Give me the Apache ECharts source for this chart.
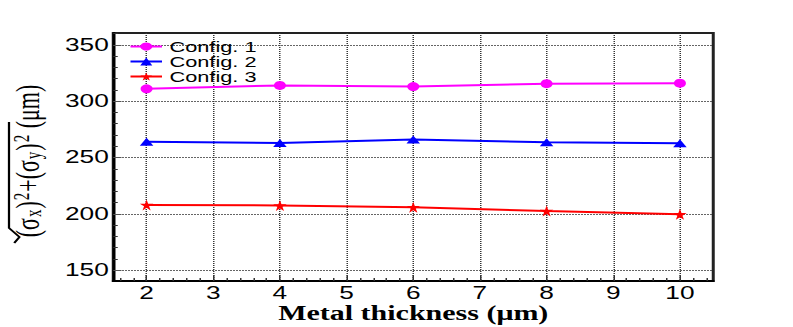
<!DOCTYPE html>
<html>
<head>
<meta charset="utf-8">
<script src="https://cdn.jsdelivr.net/npm/echarts@6/dist/echarts.min.js"></script>
<style>
  html, body { margin: 0; padding: 0; background: #fff; overflow: hidden; }
  /* the reference is a ROOT plot stretched sideways, so draw narrow and stretch */
  #chart { width: 529px; height: 327px; transform: scaleX(1.5); transform-origin: 0 0; }
</style>
</head>
<body>
<div id="chart"></div>
<script>
// metal thickness (um)
var thickness = [2, 4, 6, 8, 10];
// sqrt(sx^2 + sy^2) in um
var config1 = [311, 314, 313, 315.5, 316];
var config2 = [264, 263, 266, 263.5, 262.8];
var config3 = [208, 207.5, 206, 202.6, 199.7];
var seriesNames = ['Config. 1', 'Config. 2', 'Config. 3'];

var xMajorTicks = [2, 3, 4, 5, 6, 7, 8, 9, 10];
var yMajorTicks = [150, 200, 250, 300, 350];

// minor ticks: 5 per unit on x, every 10 on y
var xMinorTicks = [];
for (var i = 16; i <= 104; i += 2) {
  if (i % 10 !== 0) xMinorTicks.push(i / 10);
}
var yMinorTicks = [];
for (var j = 150; j <= 360; j += 10) {
  if (j % 50 !== 0) yMinorTicks.push(j);
}

var starPath = 'path://M50,0 L61,35 L98,35 L68,57 L79,91 L50,70 L21,91 L32,57 L2,35 L39,35 Z';

function pairs(ys) {
  return thickness.map(function (x, k) { return [x, ys[k]]; });
}

var chartDom = document.getElementById('chart');
var myChart = echarts.init(chartDom, null, { renderer: 'svg' });

var labelFont = { fontFamily: 'Liberation Sans', fontSize: 17.5, color: '#000' };

var option = {
  animation: false,
  backgroundColor: '#fff',
  grid: {
    show: true,
    outerBoundsMode: 'none',
    containLabel: false,
    left: 75.5,
    right: 53.5,
    top: 33,
    bottom: 46,
    borderColor: '#222',
    borderWidth: 2
  },
  legend: {
    orient: 'vertical',
    left: 86,
    top: 39,
    padding: 0,
    itemGap: 0,
    itemWidth: 21,
    itemHeight: 10,
    selectedMode: false,
    data: seriesNames,
    textStyle: { fontFamily: 'Liberation Sans', fontSize: 14.5, color: '#000', lineHeight: 13 }
  },
  xAxis: [
    {
      type: 'value',
      min: 1.5,
      max: 10.5,
      name: 'Metal thickness (\u03bcm)',
      nameLocation: 'middle',
      nameMoveOverlap: false,
      nameGap: 22,
      nameTextStyle: { fontFamily: 'Liberation Serif', fontWeight: 'bold', fontSize: 20, lineHeight: 21, color: '#000' },
      axisLine: { lineStyle: { color: '#000', width: 2 } },
      axisTick: { inside: true, length: 6, customValues: xMajorTicks, lineStyle: { color: '#333', width: 1 } },
      axisLabel: Object.assign({ margin: 3, customValues: xMajorTicks }, labelFont),
      splitLine: { show: true, lineStyle: { type: 'dotted', color: '#333', width: 1 } }
    },
    {
      type: 'value',
      position: 'bottom',
      min: 1.5,
      max: 10.5,
      axisLine: { show: false },
      axisTick: { inside: true, length: 3, customValues: xMinorTicks, lineStyle: { color: '#333', width: 1 } },
      axisLabel: { show: false },
      splitLine: { show: false }
    }
  ],
  yAxis: [
    {
      type: 'value',
      min: 140.5,
      max: 360.5,
      axisLine: { show: true, lineStyle: { color: '#000', width: 2 } },
      axisTick: { show: true, inside: true, length: 5.5, customValues: yMajorTicks, lineStyle: { color: '#555', width: 1 } },
      axisLabel: Object.assign({ margin: 3, customValues: yMajorTicks }, labelFont),
      splitLine: { show: true, lineStyle: { type: 'dotted', color: '#333', width: 1 } }
    },
    {
      type: 'value',
      position: 'left',
      min: 140.5,
      max: 360.5,
      axisLine: { show: false },
      axisTick: { show: true, inside: true, length: 3, customValues: yMinorTicks, lineStyle: { color: '#333', width: 1 } },
      axisLabel: { show: false },
      splitLine: { show: false }
    }
  ],
  graphic: [
    // square root sign around (sx)^2+(sy)^2
    {
      type: 'polyline',
      shape: { points: [[6, 122], [6, 228], [13, 237], [9.5, 243]] },
      style: { stroke: '#000', lineWidth: 1.5, fill: null }
    },
    {
      type: 'text',
      x: 18.5,
      y: 161,
      rotation: Math.PI / 2,
      style: {
        text: '{b|(\u03c3}{sub|x}{b|)}{sup|2}{b|+(\u03c3}{sub|y}{b|)}{sup|2}{b| (\u03bcm)}',
        align: 'center',
        verticalAlign: 'middle',
        fill: '#000',
        rich: {
          b: { fontFamily: 'Liberation Serif', fontSize: 22, lineHeight: 23, padding: [0, 0.5], verticalAlign: 'middle' },
          sub: { fontFamily: 'Liberation Serif', fontSize: 15, lineHeight: 15, padding: [0, 0.5], verticalAlign: 'bottom' },
          sup: { fontFamily: 'Liberation Serif', fontSize: 15, lineHeight: 15, padding: [0, 0.5], verticalAlign: 'top' }
        }
      }
    }
  ],
  series: [
    {
      name: seriesNames[0],
      type: 'line',
      data: pairs(config1),
      symbol: 'circle',
      symbolSize: [8, 9],
      color: '#ff00ff',
      lineStyle: { width: 2, color: '#ff00ff' },
      itemStyle: { color: '#ff00ff' }
    },
    {
      name: seriesNames[1],
      type: 'line',
      data: pairs(config2),
      symbol: 'triangle',
      symbolSize: [9, 8],
      color: '#0000ff',
      lineStyle: { width: 2, color: '#0000ff' },
      itemStyle: { color: '#0000ff' }
    },
    {
      name: seriesNames[2],
      type: 'line',
      data: pairs(config3),
      symbol: starPath,
      symbolSize: [9, 11],
      color: '#ff0000',
      lineStyle: { width: 2, color: '#ff0000' },
      itemStyle: { color: '#ff0000' }
    }
  ]
};

option && myChart.setOption(option);
</script>
</body>
</html>
